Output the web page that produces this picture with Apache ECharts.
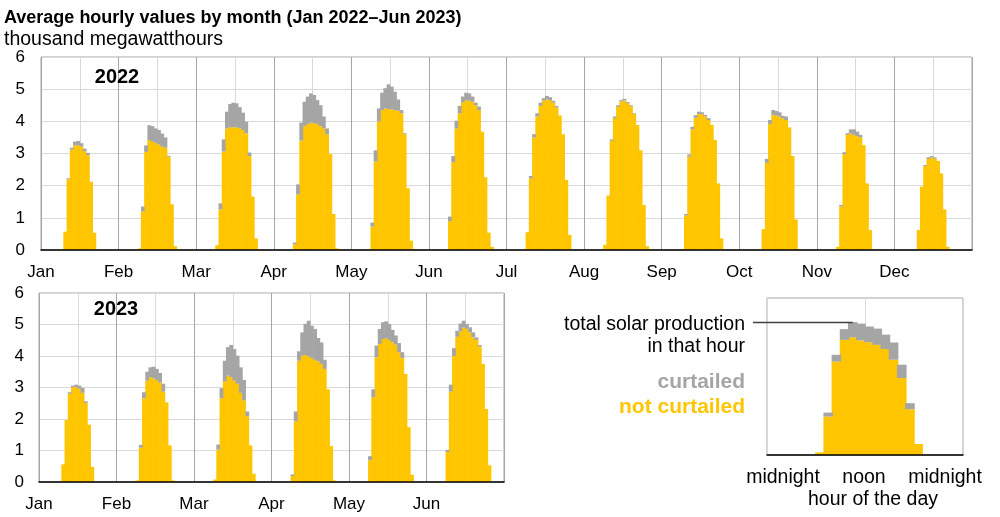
<!DOCTYPE html>
<html><head><meta charset="utf-8">
<script src="https://cdn.jsdelivr.net/npm/echarts@6/dist/echarts.min.js"></script>
<style>html,body{margin:0;padding:0;background:#fff}#c{width:1000px;height:517px}</style>
</head><body><div id="c"></div>
<script>
// ---------- data (thousand MWh, average by hour of day 0..23) ----------
const months2022 = ['Jan','Feb','Mar','Apr','May','Jun','Jul','Aug','Sep','Oct','Nov','Dec'];
const months2023 = ['Jan','Feb','Mar','Apr','May','Jun'];
const yTicks = [0,1,2,3,4,5,6];

// total solar production per hour, 2022
const total2022 = [
  [0,0,0,0,0,0,0,0.57,2.23,3.18,3.37,3.39,3.32,3.15,3.02,2.12,0.54,0,0,0,0,0,0,0],
  [0,0,0,0,0,0,0.05,1.35,3.25,3.88,3.85,3.78,3.73,3.62,3.5,2.93,1.42,0.12,0,0,0,0,0,0],
  [0,0,0,0,0,0,0.15,1.45,3.44,4.3,4.54,4.58,4.56,4.44,4.27,3.99,3.03,1.66,0.36,0,0,0,0,0],
  [0,0,0,0,0,0,0.23,2.04,3.96,4.61,4.77,4.87,4.82,4.66,4.5,4.15,3.78,2.98,1.12,0.05,0,0,0,0],
  [0,0,0,0,0,0,0.85,3.1,4.4,4.89,5.03,5.15,5.08,4.92,4.68,4.35,3.63,1.92,0.29,0.03,0,0,0,0],
  [0,0,0,0,0,0,1.04,2.92,4.02,4.48,4.77,4.89,4.87,4.77,4.58,4.46,3.68,2.26,0.54,0.1,0,0,0,0],
  [0,0,0,0,0,0,0.55,2.3,3.6,4.25,4.58,4.72,4.79,4.75,4.64,4.48,4.18,3.6,2.18,0.47,0,0,0,0],
  [0,0,0,0,0,0,0.16,1.69,3.44,4.15,4.5,4.66,4.7,4.6,4.5,4.25,3.89,3.1,1.4,0.12,0,0,0,0],
  [0,0,0,0,0,0,0.03,1.12,2.97,3.83,4.19,4.3,4.28,4.2,4.1,3.89,3.42,2.07,0.36,0,0,0,0,0],
  [0,0,0,0,0,0,0,0.65,2.83,4.04,4.35,4.32,4.28,4.17,4.15,3.81,2.92,0.95,0.03,0,0,0,0,0],
  [0,0,0,0,0,0,0.1,1.4,3.04,3.63,3.75,3.75,3.68,3.58,3.26,2.07,0.62,0.03,0,0,0,0,0,0],
  [0,0,0,0,0,0,0,0.62,1.97,2.64,2.88,2.92,2.88,2.77,2.38,1.26,0.1,0,0,0,0,0,0,0]
];
// not curtailed production per hour, 2022
const notCurtailed2022 = [
  [0,0,0,0,0,0,0,0.57,2.2,3.12,3.25,3.26,3.22,3.07,2.95,2.12,0.54,0,0,0,0,0,0,0],
  [0,0,0,0,0,0,0.05,1.2,3.05,3.42,3.37,3.33,3.28,3.22,3.18,2.9,1.42,0.12,0,0,0,0,0,0],
  [0,0,0,0,0,0,0.15,1.26,3.06,3.78,3.81,3.82,3.81,3.79,3.73,3.63,2.92,1.66,0.36,0,0,0,0,0],
  [0,0,0,0,0,0,0.18,1.73,3.4,3.85,3.92,3.96,3.94,3.92,3.85,3.78,3.6,2.98,1.12,0.05,0,0,0,0],
  [0,0,0,0,0,0,0.73,2.75,4.0,4.35,4.4,4.38,4.37,4.35,4.33,4.25,3.6,1.92,0.29,0.03,0,0,0,0],
  [0,0,0,0,0,0,0.9,2.73,3.78,4.25,4.59,4.66,4.64,4.61,4.5,4.35,3.68,2.26,0.54,0.1,0,0,0,0],
  [0,0,0,0,0,0,0.55,2.23,3.5,4.15,4.48,4.64,4.68,4.66,4.58,4.43,4.18,3.6,2.18,0.47,0,0,0,0],
  [0,0,0,0,0,0,0.16,1.69,3.4,4.1,4.45,4.62,4.65,4.56,4.47,4.23,3.89,3.1,1.4,0.12,0,0,0,0],
  [0,0,0,0,0,0,0.03,1.07,2.9,3.75,4.11,4.23,4.22,4.15,4.04,3.89,3.42,2.07,0.36,0,0,0,0,0],
  [0,0,0,0,0,0,0,0.65,2.71,3.92,4.2,4.18,4.15,4.09,4.04,3.81,2.92,0.95,0.03,0,0,0,0,0],
  [0,0,0,0,0,0,0.1,1.35,2.98,3.58,3.63,3.58,3.54,3.5,3.26,2.07,0.62,0.03,0,0,0,0,0,0],
  [0,0,0,0,0,0,0,0.62,1.97,2.61,2.83,2.88,2.84,2.77,2.38,1.26,0.1,0,0,0,0,0,0,0]
];
// total solar production per hour, 2023
const total2023 = [
  [0,0,0,0,0,0,0,0.56,1.97,2.85,3.06,3.09,3.06,2.99,2.56,1.82,0.48,0,0,0,0,0,0,0],
  [0,0,0,0,0,0,0.05,1.18,2.85,3.5,3.64,3.66,3.59,3.46,3.12,2.53,1.16,0.05,0,0,0,0,0,0],
  [0,0,0,0,0,0,0.08,1.19,2.98,3.85,4.28,4.35,4.22,4.01,3.64,3.24,2.24,1.16,0.26,0,0,0,0,0],
  [0,0,0,0,0,0,0.24,2.24,4.15,4.75,5.02,5.12,4.96,4.86,4.57,4.43,3.88,2.94,1.14,0.05,0,0,0,0],
  [0,0,0,0,0,0,0.82,2.94,4.33,4.86,5.07,5.1,5.02,4.83,4.65,4.41,4.12,3.43,1.74,0.23,0,0,0,0],
  [0,0,0,0,0,0,1.02,3.09,4.25,4.8,5.03,5.12,5.02,4.91,4.75,4.59,4.35,3.75,2.32,0.53,0,0,0,0]
];
// not curtailed production per hour, 2023
const notCurtailed2023 = [
  [0,0,0,0,0,0,0,0.56,1.97,2.8,3.01,3.01,2.96,2.83,2.51,1.82,0.48,0,0,0,0,0,0,0],
  [0,0,0,0,0,0,0.05,1.09,2.66,3.22,3.33,3.29,3.24,3.15,2.87,2.53,1.16,0.05,0,0,0,0,0,0],
  [0,0,0,0,0,0,0.08,1.03,2.66,3.19,3.38,3.33,3.22,3.12,2.83,2.59,2.09,1.16,0.26,0,0,0,0,0],
  [0,0,0,0,0,0,0.19,1.92,3.85,4.01,4.03,3.99,3.94,3.88,3.83,3.75,3.59,2.94,1.14,0.05,0,0,0,0],
  [0,0,0,0,0,0,0.69,2.69,3.96,4.38,4.54,4.56,4.51,4.44,4.36,4.12,3.94,3.43,1.74,0.23,0,0,0,0],
  [0,0,0,0,0,0,0.95,2.87,4.0,4.61,4.78,4.9,4.86,4.75,4.59,4.51,4.3,3.75,2.32,0.53,0,0,0,0]
];
// explanatory example day (legend panel)
const exampleTotal = [0,0,0,0,0,0,0.1,1.62,3.83,4.81,5.08,5.02,4.91,4.83,4.6,4.3,3.45,1.98,0.42,0,0,0,0,0];
const exampleNotCurtailed = [0,0,0,0,0,0,0.1,1.47,3.57,4.4,4.5,4.38,4.31,4.21,4.05,3.64,2.94,1.75,0.42,0,0,0,0,0];
const examplePeakHour = 10;
const hourLabels = ['midnight','noon','midnight'];

// ---------- build ----------
const YELLOW = '#ffc600', GRAY = '#a5a5a5';
const FONT = '"Liberation Sans", Arial, Helvetica, sans-serif';
const flat = a => [].concat(...a);
const diff = (t, n) => t.map((v, i) => +(v - n[i]).toFixed(2));
const blankZero = a => a.map(v => (v > 0 ? v : '-'));
const nc22 = flat(notCurtailed2022), cu22 = diff(flat(total2022), nc22);
const nc23 = flat(notCurtailed2023), cu23 = diff(flat(total2023), nc23);
const exCu = diff(exampleTotal, exampleNotCurtailed);
const cats = n => Array.from({length: n}, (_, i) => String(i));

function panelAxes(grid, nMonths, names, labelMargin) {
  const n = nMonths * 24;
  return [
    {type: 'category', gridIndex: grid, data: cats(n), position: 'bottom', z: 5,
     axisLine: {show: true, lineStyle: {color: '#000', width: 1.5}},
     axisTick: {show: false}, axisLabel: {show: false}, splitLine: {show: false}},
    {type: 'value', gridIndex: grid, min: 0, max: n, interval: 12, position: 'bottom', z: 0,
     axisLine: {show: false}, axisTick: {show: false}, axisLabel: {show: false},
     splitLine: {show: true, lineStyle: {color: '#d9d9d9', width: 1}}},
    {type: 'value', gridIndex: grid, min: 0, max: n, interval: 24, position: 'bottom', z: 1,
     axisLine: {show: false}, axisTick: {show: false},
     axisLabel: {show: true, fontSize: 17, color: '#000', fontFamily: FONT, margin: labelMargin,
                 formatter: v => names[v / 24] || ''},
     splitLine: {show: true, lineStyle: {color: '#a6a6a6', width: 1}}}
  ];
}
function yAx(grid, margin) {
  return {type: 'value', gridIndex: grid, min: yTicks[0], max: yTicks[yTicks.length - 1], interval: 1,
    axisLine: {show: false}, axisTick: {show: false},
    axisLabel: {fontSize: 17, color: '#000', fontFamily: FONT, margin: margin},
    splitLine: {show: true, lineStyle: {color: '#d9d9d9', width: 1}}};
}
function bars(xi, yi, stack, nc, cu) {
  const common = {type: 'bar', xAxisIndex: xi, yAxisIndex: yi, stack: stack,
                  barWidth: '118%', barGap: '-100%', animation: false, silent: true};
  return [
    Object.assign({}, common, {name: 'not curtailed', data: blankZero(nc),
      itemStyle: {color: YELLOW}}),
    Object.assign({}, common, {name: 'curtailed', data: blankZero(cu),
      itemStyle: {color: GRAY}})
  ];
}
function txt(x, y, text, o) {
  return {type: 'text', x: x, y: y, silent: true, z: 100,
    style: Object.assign({text: text, fontFamily: FONT, fontSize: 19.5, fill: '#000',
                          align: 'left', verticalAlign: 'middle'}, o || {})};
}

const chart = echarts.init(document.getElementById('c'), null, {renderer: 'canvas'});
const option = {
  animation: false,
  backgroundColor: '#fff',
  textStyle: {fontFamily: FONT},
  grid: [
    {left: 41, right: 28, top: 57, bottom: 267, show: true, borderColor: '#a6a6a6', borderWidth: 1, containLabel: false},
    {left: 39, right: 496, top: 293, bottom: 35, show: true, borderColor: '#a6a6a6', borderWidth: 1, containLabel: false},
    {left: 767, right: 37, top: 298, bottom: 62, show: true, borderColor: '#a6a6a6', borderWidth: 1, containLabel: false}
  ],
  xAxis: [].concat(
    panelAxes(0, 12, months2022, 14),
    panelAxes(1, 6, months2023, 14),
    [
      {type: 'category', gridIndex: 2, data: cats(24), position: 'bottom', z: 5,
       axisLine: {show: true, lineStyle: {color: '#000', width: 1.5}},
       axisTick: {show: false}, axisLabel: {show: false}, splitLine: {show: false}},
      {type: 'value', gridIndex: 2, min: 0, max: 24, interval: 12, position: 'bottom',
       axisLine: {show: false}, axisTick: {show: false}, axisLabel: {show: false},
       splitLine: {show: true, lineStyle: {color: '#d9d9d9', width: 1}}}
    ]
  ),
  yAxis: [yAx(0, 16), yAx(1, 15),
    {type: 'value', gridIndex: 2, min: 0, max: 6, show: false, splitLine: {show: false}}],
  series: [].concat(
    bars(0, 0, 'y22', nc22, cu22),
    bars(3, 1, 'y23', nc23, cu23),
    bars(6, 2, 'ex', exampleNotCurtailed, exCu)
  )
};
chart.setOption(option);

const peak = chart.convertToPixel({xAxisIndex: 6, yAxisIndex: 2}, [examplePeakHour, exampleTotal[examplePeakHour]]);
chart.setOption({
  graphic: [
    txt(4, 18, 'Average hourly values by month (Jan 2022\u2013Jun 2023)', {fontSize: 18, fontWeight: 'bold'}),
    txt(4, 40, 'thousand megawatthours'),
    txt(117, 77, '2022', {fontSize: 20, fontWeight: 'bold', align: 'center'}),
    txt(116, 309, '2023', {fontSize: 20, fontWeight: 'bold', align: 'center'}),
    txt(745, 325, 'total solar production', {align: 'right'}),
    txt(745, 347, 'in that hour', {align: 'right'}),
    txt(745, 382, 'curtailed', {align: 'right', fontWeight: 'bold', fontSize: 21, fill: GRAY}),
    txt(745, 407, 'not curtailed', {align: 'right', fontWeight: 'bold', fontSize: 21, fill: YELLOW}),
    txt(783, 478, hourLabels[0], {align: 'center'}),
    txt(864, 478, hourLabels[1], {align: 'center'}),
    txt(945, 478, hourLabels[2], {align: 'center'}),
    txt(873, 500, 'hour of the day', {align: 'center'}),
    {type: 'line', silent: true, z: 100,
     shape: {x1: 753, y1: Math.round(peak[1]) + 0.5, x2: peak[0], y2: Math.round(peak[1]) + 0.5},
     style: {stroke: '#404040', lineWidth: 1.5}}
  ]
});
</script></body></html>
